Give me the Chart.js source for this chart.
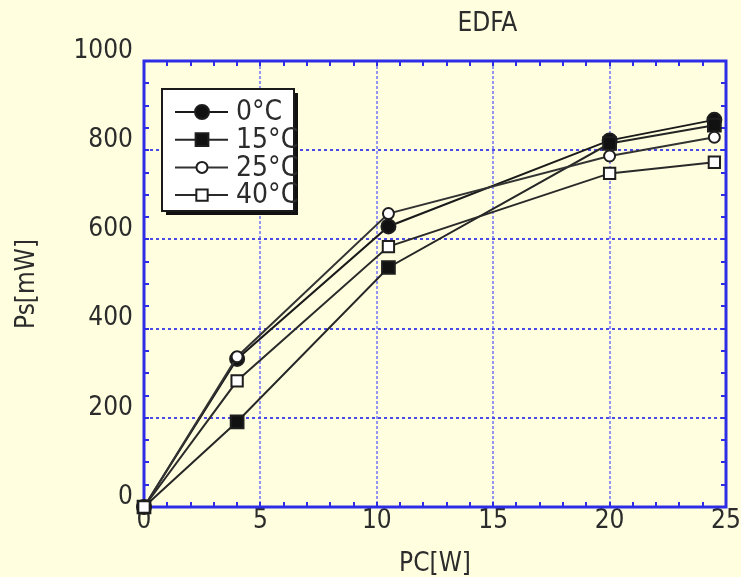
<!DOCTYPE html>
<html><head><meta charset="utf-8">
<script src="https://cdn.jsdelivr.net/npm/chart.js@4.4.1/dist/chart.umd.min.js"></script>
<style>html,body{margin:0;padding:0;background:#FFFFE0;}canvas{display:block;}</style>
</head><body>
<canvas id="c" width="741" height="577"></canvas>
<script>
// ---- data ----
const chartTitle = 'EDFA';
const xTitle = 'PC[W]';
const yTitle = 'Ps[mW]';
const seriesLabels = ['0°C', '15°C', '25°C', '40°C'];
const pcW = [0, 4, 10.5, 20, 24.5];
const ps0C = [0, 332, 629, 822, 868];
const ps15C = [0, 191, 537, 815, 856];
const ps25C = [0, 337, 658, 787, 829];
const ps40C = [0, 283, 584, 748, 773];

const FONT = "'Liberation Sans Narrow', 'DejaVu Sans Condensed', 'Arial Narrow', sans-serif";
const TXT = '#2c2c2c';
const BG = '#FFFFE0';
const FRAME = '#2d2de6';

function pts(ys) { return pcW.map((x, i) => ({ x: x, y: ys[i] })); }

const styles = [
  { pointStyle: 'circle', radius: 7, fill: '#111111', line: '#1a1a1a' },
  { pointStyle: 'rect', radius: 9, fill: '#111111', line: '#262626' },
  { pointStyle: 'circle', radius: 5.5, fill: '#ffffff', line: '#333333' },
  { pointStyle: 'rect', radius: 8, fill: '#ffffff', line: '#2a2a2a' }
];
const allSeries = [ps0C, ps15C, ps25C, ps40C];

const datasets = allSeries.map((ys, i) => ({
  label: seriesLabels[i],
  data: pts(ys),
  borderColor: styles[i].line,
  borderWidth: 2,
  pointStyle: styles[i].pointStyle,
  pointRadius: styles[i].radius,
  pointBackgroundColor: styles[i].fill,
  pointBorderColor: '#1e1e1e',
  pointBorderWidth: 2,
  tension: 0,
  clip: false,
  order: 3 - i
}));

const bgPlugin = {
  id: 'bg',
  beforeDraw(chart) {
    const c = chart.ctx;
    c.save();
    c.fillStyle = BG;
    c.fillRect(0, 0, chart.width, chart.height);
    c.restore();
  }
};

const framePlugin = {
  id: 'frame',
  beforeDatasetsDraw(chart) {
    const c = chart.ctx, a = chart.chartArea;
    const xs = chart.scales.x, ys = chart.scales.y;
    c.save();
    c.strokeStyle = FRAME;
    c.lineWidth = 3;
    c.strokeRect(a.left, a.top, a.right - a.left, a.bottom - a.top);
    c.lineWidth = 2;
    c.beginPath();
    for (let v = 1; v < 25; v++) {
      const px = Math.round(xs.getPixelForValue(v));
      c.moveTo(px, a.bottom); c.lineTo(px, a.bottom - 5);
      c.moveTo(px, a.top); c.lineTo(px, a.top + 5);
    }
    for (let v = 50; v < 1000; v += 50) {
      const py = Math.round(ys.getPixelForValue(v));
      c.moveTo(a.left, py); c.lineTo(a.left + 5, py);
      c.moveTo(a.right, py); c.lineTo(a.right - 5, py);
    }
    c.stroke();
    c.restore();
  }
};

const titleLegendPlugin = {
  id: 'titleLegend',
  afterDraw(chart) {
    const c = chart.ctx, a = chart.chartArea;
    c.save();
    // title
    c.font = '26px ' + FONT;
    c.fillStyle = TXT;
    c.textAlign = 'center';
    c.textBaseline = 'middle';
    c.fillText(chartTitle, a.left + (a.right - a.left) * 0.59, 24);
    // legend box
    const L = a.left + 18, T = a.top + 28, W = 132, H = 122;
    c.fillStyle = '#111111';
    c.fillRect(L + 4, T + 4, W, H);
    c.fillStyle = '#ffffff';
    c.fillRect(L, T, W, H);
    c.strokeStyle = '#1a1a1a';
    c.lineWidth = 2;
    c.strokeRect(L, T, W, H);
    chart.data.datasets.forEach((ds, i) => {
      const y = T + 23 + i * 27.7;
      c.strokeStyle = ds.borderColor;
      c.lineWidth = 2;
      c.beginPath();
      c.moveTo(L + 13, y); c.lineTo(L + 66, y);
      c.stroke();
      c.fillStyle = ds.pointBackgroundColor;
      c.strokeStyle = ds.pointBorderColor;
      c.lineWidth = 2;
      Chart.helpers.drawPoint(c, { pointStyle: ds.pointStyle, radius: ds.pointRadius, borderWidth: 2 }, L + 40, y);
      c.fillStyle = TXT;
      c.textAlign = 'left';
      c.textBaseline = 'middle';
      c.font = '28px ' + FONT;
      c.fillText(ds.label, L + 74, y + 1);
    });
    c.restore();
  }
};

new Chart(document.getElementById('c'), {
  type: 'line',
  data: { datasets: datasets },
  plugins: [bgPlugin, framePlugin, titleLegendPlugin],
  options: {
    responsive: false,
    animation: false,
    devicePixelRatio: 1,
    layout: { padding: { left: 0, right: 15, top: 61, bottom: 0 } },
    plugins: { legend: { display: false }, tooltip: { enabled: false }, title: { display: false } },
    scales: {
      x: {
        type: 'linear', min: 0, max: 25,
        afterFit(s) { s.height = 70; },
        ticks: { stepSize: 5, padding: -1, color: TXT, font: { family: FONT, size: 26 }, maxRotation: 0, callback: v => String(v) },
        grid: { drawTicks: false, color: '#9494f2', lineWidth: 2 },
        border: { display: false, dash: [3, 2] },
        title: { display: true, text: xTitle, color: TXT, font: { family: FONT, size: 26, lineHeight: 1 }, padding: { top: 0, bottom: 0 } }
      },
      y: {
        type: 'linear', min: 0, max: 1000,
        afterFit(s) { s.width = 144; },
        ticks: { stepSize: 200, padding: 11, labelOffset: -10, color: TXT, font: { family: FONT, size: 26 }, callback: v => String(v) },
        grid: { drawTicks: false, color: '#4a4ae6', lineWidth: 2 },
        border: { display: false, dash: [3, 3] },
        title: { display: true, text: yTitle, color: TXT, font: { family: FONT, size: 26, lineHeight: 1.2 }, padding: { top: 12, bottom: 0 } }
      }
    }
  }
});
</script>
</body></html>
